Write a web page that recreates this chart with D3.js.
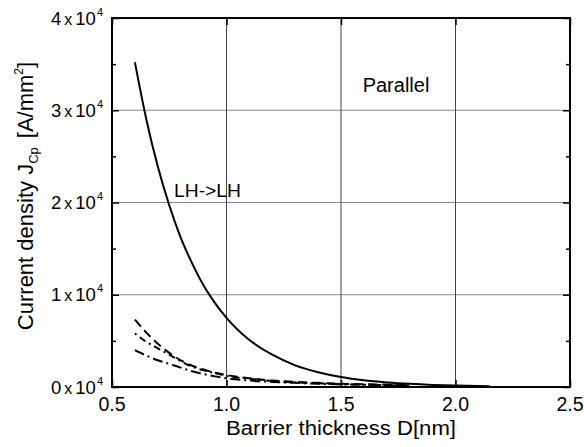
<!DOCTYPE html>
<html lang="en">
<head>
    <meta charset="UTF-8">
    <title>Current density vs barrier thickness</title>
    <style>
        body { margin: 0; background: #fff; }
        text { font-family: "Liberation Sans", Arial, sans-serif; fill: #000; }
    </style>
</head>
<body></body>
<script src="https://cdn.jsdelivr.net/npm/d3@7"></script>
<script>
    // values in units of 1e4 A/mm^2
    const thickness = [0.6, 0.65, 0.7, 0.75, 0.8, 0.85, 0.9, 0.95, 1.0, 1.1, 1.2, 1.3, 1.4, 1.5, 1.6, 1.7, 1.8, 1.9, 2.0, 2.15];
    const solidLH = [3.52, 2.90, 2.39, 1.97, 1.62, 1.34, 1.10, 0.91, 0.75, 0.51, 0.35, 0.235, 0.16, 0.108, 0.073, 0.05, 0.034, 0.023, 0.016, 0.009];

    const thicknessLow = [0.6, 0.65, 0.7, 0.75, 0.8, 0.85, 0.9, 0.95, 1.0, 1.1, 1.2, 1.3, 1.4, 1.5, 1.6, 1.7, 1.8];
    const dashed = [0.73, 0.59, 0.47, 0.37, 0.29, 0.23, 0.19, 0.155, 0.13, 0.095, 0.07, 0.055, 0.045, 0.035, 0.03, 0.025, 0.02];
    const dashDotDot = [0.58, 0.49, 0.42, 0.35, 0.28, 0.22, 0.18, 0.15, 0.12, 0.09, 0.065, 0.05, 0.04, 0.03, 0.025, 0.02, 0.015];
    const dashDot = [0.40, 0.34, 0.29, 0.25, 0.21, 0.17, 0.14, 0.115, 0.095, 0.07, 0.055, 0.045, 0.035, 0.03, 0.025, 0.02, 0.015];

    const xTicks = [0.5, 1.0, 1.5, 2.0, 2.5];
    const yTicks = [0, 1, 2, 3, 4];
    const yMinor = [0.5, 1.5, 2.5, 3.5];

    const width = 584, height = 447;
    const pLeft = 112, pRight = 570, pTop = 18, pBottom = 387;

    const svg = d3.select("body").append("svg")
        .attr("width", width)
        .attr("height", height);

    const x = d3.scaleLinear().domain([0.5, 2.5]).range([pLeft, pRight]);
    const y = d3.scaleLinear().domain([0, 4]).range([pBottom, pTop]);

    // grid
    svg.selectAll(".hgrid")
        .data(yTicks.slice(1, -1))
        .enter().append("line")
        .attr("x1", pLeft).attr("x2", pRight)
        .attr("y1", d => y(d)).attr("y2", d => y(d))
        .attr("stroke", "#8a8a8a").attr("stroke-width", 1);

    svg.selectAll(".vgrid")
        .data(xTicks.slice(1, -1))
        .enter().append("line")
        .attr("x1", d => x(d)).attr("x2", d => x(d))
        .attr("y1", pTop).attr("y2", pBottom)
        .attr("stroke", "#444").attr("stroke-width", 1);

    // axes with inward ticks
    const g = svg.append("g");
    g.append("g").attr("transform", `translate(${pLeft},0)`)
        .call(d3.axisRight(y).tickValues(yTicks).tickSize(7).tickFormat(""));
    g.append("g").attr("transform", `translate(${pLeft},0)`)
        .call(d3.axisRight(y).tickValues(yMinor).tickSize(4).tickFormat(""));
    g.append("g").attr("transform", `translate(${pRight},0)`)
        .call(d3.axisLeft(y).tickValues(yTicks).tickSize(7).tickFormat(""));
    g.append("g").attr("transform", `translate(${pRight},0)`)
        .call(d3.axisLeft(y).tickValues(yMinor).tickSize(4).tickFormat(""));
    g.append("g").attr("transform", `translate(0,${pTop})`)
        .call(d3.axisBottom(x).tickValues(xTicks).tickSize(7).tickFormat(""));
    g.append("g").attr("transform", `translate(0,${pBottom})`)
        .call(d3.axisTop(x).tickValues(xTicks).tickSize(7).tickFormat(""));
    g.selectAll(".domain").remove();
    g.selectAll(".tick line").attr("stroke", "#000").attr("stroke-width", 1.5);

    svg.append("rect")
        .attr("x", pLeft).attr("y", pTop)
        .attr("width", pRight - pLeft).attr("height", pBottom - pTop)
        .attr("fill", "none").attr("stroke", "#000").attr("stroke-width", 2);

    // curves
    const line = d3.line().x(d => x(d[0])).y(d => y(d[1])).curve(d3.curveMonotoneX);
    const series = [
        { xs: thickness, ys: solidLH, dash: null },
        { xs: thicknessLow, ys: dashed, dash: "9,5" },
        { xs: thicknessLow, ys: dashDotDot, dash: "2,4,7,4" },
        { xs: thicknessLow, ys: dashDot, dash: "10,4,2,4" }
    ];
    svg.selectAll(".curve")
        .data(series)
        .enter().append("path")
        .attr("d", s => line(s.xs.map((v, i) => [v, s.ys[i]])))
        .attr("fill", "none")
        .attr("stroke", "#000")
        .attr("stroke-width", 2)
        .attr("stroke-dasharray", s => s.dash);

    // x tick labels
    svg.selectAll(".xlab")
        .data(xTicks)
        .enter().append("text")
        .attr("x", d => x(d)).attr("y", 411)
        .attr("text-anchor", "middle")
        .attr("font-size", 19.5)
        .text(d => d.toFixed(1));

    // y tick labels: "n x 10^4"
    const yl = svg.selectAll(".ylab")
        .data(yTicks)
        .enter().append("text")
        .attr("x", 103).attr("y", d => y(d) + 6.7)
        .attr("text-anchor", "end")
        .attr("font-size", 18.5);
    yl.append("tspan").text(d => d);
    yl.append("tspan").attr("font-size", 16).attr("dx", 3).text("x");
    yl.append("tspan").attr("dx", 3).text("10");
    yl.append("tspan").attr("font-size", 11).attr("dy", -9).attr("dx", 1).text("4");

    // axis titles
    svg.append("text")
        .attr("x", x(1.5)).attr("y", 435)
        .attr("text-anchor", "middle")
        .attr("font-size", 20)
        .attr("textLength", 230).attr("lengthAdjust", "spacingAndGlyphs")
        .text("Barrier thickness D[nm]");

    const yt = svg.append("text")
        .attr("transform", `translate(33,196) rotate(-90)`)
        .attr("text-anchor", "middle")
        .attr("font-size", 22);
    yt.append("tspan").text("Current density J");
    yt.append("tspan").attr("font-size", 13).attr("dy", 5).text("Cp");
    yt.append("tspan").attr("dy", -5).attr("dx", 9).text("[A/mm");
    yt.append("tspan").attr("font-size", 12).attr("dy", -10).text("2");
    yt.append("tspan").attr("dy", 10).text("]");

    // annotations
    svg.append("text")
        .attr("x", 174).attr("y", 197)
        .attr("font-size", 18)
        .attr("textLength", 67).attr("lengthAdjust", "spacingAndGlyphs")
        .text("LH->LH");

    svg.append("text")
        .attr("x", 396).attr("y", 92)
        .attr("text-anchor", "middle")
        .attr("font-size", 20)
        .text("Parallel");
</script>
</html>
